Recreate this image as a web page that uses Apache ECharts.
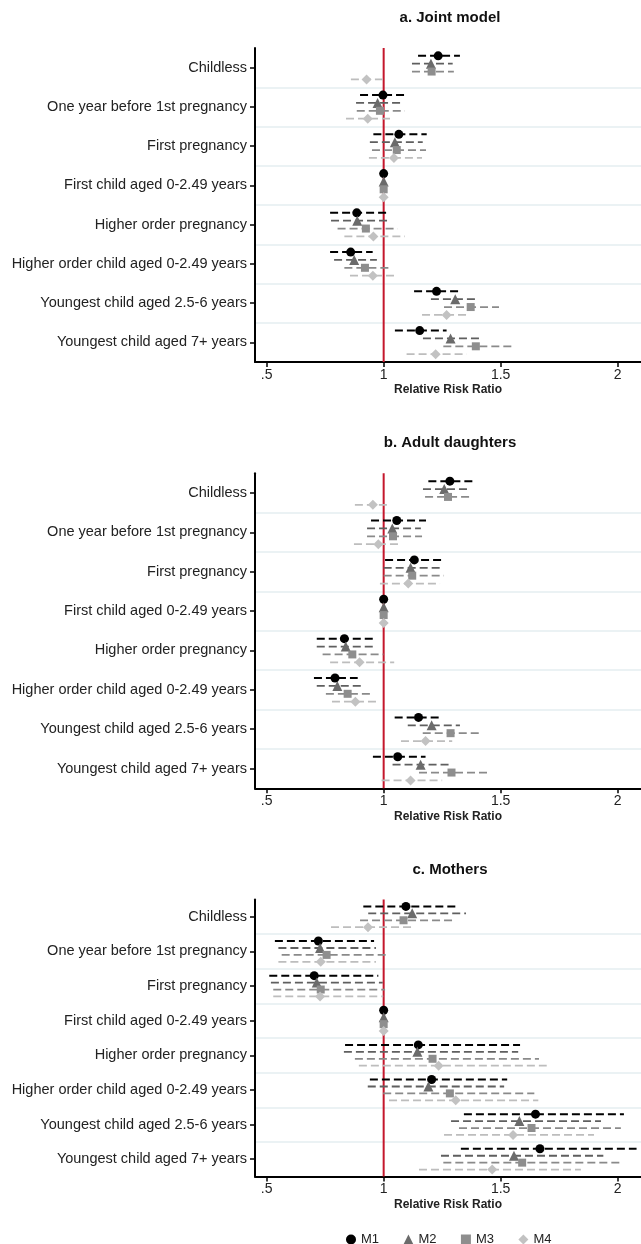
<!DOCTYPE html>
<html>
<head>
<meta charset="utf-8">
<script src="https://cdn.jsdelivr.net/npm/echarts@6/dist/echarts.min.js"></script>
<style>
html,body{margin:0;padding:0;background:#fff;}
#chart{width:641px;height:1244px;}
</style>
</head>
<body>
<div id="chart"></div>
<script>
// ---------------- DATA ----------------
const categories = [
  'Childless',
  'One year before 1st pregnancy',
  'First pregnancy',
  'First child aged 0-2.49 years',
  'Higher order pregnancy',
  'Higher order child aged 0-2.49 years',
  'Youngest child aged 2.5-6 years',
  'Youngest child aged 7+ years'
];
const panelTitles = ['a. Joint model', 'b. Adult daughters', 'c. Mothers'];
const modelNames = ['M1', 'M2', 'M3', 'M4'];
const xTickValues = [0.5, 1, 1.5, 2];
const xTickLabels = ['.5', '1', '1.5', '2'];
const xAxisTitle = 'Relative Risk Ratio';

// Panel a: Joint model
const a_M1 = [1.233, 0.997, 1.065, 1, 0.885, 0.859, 1.226, 1.154];
const a_M1_lo = [1.147, 0.899, 0.956, 1, 0.771, 0.771, 1.130, 1.048];
const a_M1_hi = [1.326, 1.098, 1.184, 1, 1.013, 0.953, 1.330, 1.269];
const a_M2 = [1.202, 0.974, 1.048, 1, 0.887, 0.874, 1.306, 1.286];
const a_M2_lo = [1.121, 0.882, 0.941, 1, 0.775, 0.788, 1.202, 1.168];
const a_M2_hi = [1.295, 1.084, 1.167, 1, 1.021, 0.971, 1.404, 1.419];
const a_M3 = [1.205, 0.984, 1.056, 1, 0.924, 0.920, 1.372, 1.394];
const a_M3_lo = [1.121, 0.885, 0.950, 1, 0.803, 0.832, 1.258, 1.255];
const a_M3_hi = [1.300, 1.091, 1.181, 1, 1.060, 1.027, 1.493, 1.547];
const a_M4 = [0.927, 0.932, 1.044, 1, 0.956, 0.954, 1.269, 1.222];
const a_M4_lo = [0.860, 0.839, 0.937, 1, 0.832, 0.856, 1.164, 1.098];
const a_M4_hi = [0.998, 1.034, 1.164, 1, 1.091, 1.061, 1.365, 1.355];

// Panel b: Adult daughters
const b_M1 = [1.283, 1.056, 1.131, 1, 0.832, 0.792, 1.149, 1.060];
const b_M1_lo = [1.191, 0.946, 1.006, 1, 0.714, 0.702, 1.047, 0.954];
const b_M1_hi = [1.386, 1.181, 1.262, 1, 0.970, 0.889, 1.250, 1.179];
const b_M2 = [1.259, 1.037, 1.115, 1, 0.838, 0.802, 1.205, 1.158];
const b_M2_lo = [1.168, 0.929, 1.000, 1, 0.714, 0.714, 1.103, 1.038];
const b_M2_hi = [1.362, 1.159, 1.252, 1, 0.970, 0.903, 1.326, 1.292];
const b_M3 = [1.275, 1.040, 1.122, 1, 0.866, 0.846, 1.286, 1.290];
const b_M3_lo = [1.177, 0.929, 1.000, 1, 0.739, 0.753, 1.167, 1.151];
const b_M3_hi = [1.379, 1.164, 1.258, 1, 0.999, 0.953, 1.416, 1.450];
const b_M4 = [0.954, 0.977, 1.105, 1, 0.897, 0.879, 1.179, 1.115];
const b_M4_lo = [0.877, 0.873, 0.984, 1, 0.771, 0.779, 1.074, 0.991];
const b_M4_hi = [1.027, 1.078, 1.241, 1, 1.045, 0.984, 1.293, 1.250];

// Panel c: Mothers
const c_M1 = [1.095, 0.721, 0.703, 1, 1.148, 1.205, 1.649, 1.668];
const c_M1_lo = [0.913, 0.535, 0.511, 1, 0.835, 0.941, 1.343, 1.330];
const c_M1_hi = [1.322, 0.959, 0.977, 1, 1.583, 1.528, 2.027, 2.081];
const c_M2 = [1.122, 0.728, 0.714, 1, 1.144, 1.191, 1.580, 1.557];
const c_M2_lo = [0.934, 0.550, 0.518, 1, 0.830, 0.932, 1.288, 1.245];
const c_M2_hi = [1.352, 0.967, 0.996, 1, 1.575, 1.515, 1.929, 1.939];
const c_M3 = [1.085, 0.756, 0.731, 1, 1.209, 1.283, 1.632, 1.592];
const c_M3_lo = [0.899, 0.564, 0.528, 1, 0.877, 0.998, 1.322, 1.255];
const c_M3_hi = [1.309, 1.013, 1.006, 1, 1.664, 1.644, 2.014, 2.021];
const c_M4 = [0.933, 0.731, 0.728, 1, 1.235, 1.308, 1.553, 1.464];
const c_M4_lo = [0.775, 0.550, 0.528, 1, 0.894, 1.023, 1.258, 1.151];
const c_M4_hi = [1.129, 0.967, 0.998, 1, 1.697, 1.661, 1.899, 1.843];

const referenceValue = [1];

// ---------------- STYLE / LAYOUT ----------------
const FONT = '"Liberation Sans", Arial, Helvetica, sans-serif';
const panels = [
  { est: [a_M1, a_M2, a_M3, a_M4], lo: [a_M1_lo, a_M2_lo, a_M3_lo, a_M4_lo], hi: [a_M1_hi, a_M2_hi, a_M3_hi, a_M4_hi], top: 48, height: 314 },
  { est: [b_M1, b_M2, b_M3, b_M4], lo: [b_M1_lo, b_M2_lo, b_M3_lo, b_M4_lo], hi: [b_M1_hi, b_M2_hi, b_M3_hi, b_M4_hi], top: 473.3, height: 315 },
  { est: [c_M1, c_M2, c_M3, c_M4], lo: [c_M1_lo, c_M2_lo, c_M3_lo, c_M4_lo], hi: [c_M1_hi, c_M2_hi, c_M3_hi, c_M4_hi], top: 899.5, height: 277 }
];
const GRID_LEFT = 255, GRID_WIDTH = 386;
const offsets = [-0.3, -0.1, 0.1, 0.3];
const markerColors = ['#000000', '#6b6b6b', '#8e8e8e', '#c2c2c2'];
const lineColors = ['#000000', '#5f5f5f', '#8a8a8a', '#bdbdbd'];
const lineWidths = [2, 1.8, 1.8, 1.8];
const symbols = ['circle', 'triangle', 'rect', 'diamond'];
const symbolSizes = [9, 10, 8, 10];

const grids = [], xAxes = [], yAxes = [], series = [], graphics = [];

panels.forEach((p, pi) => {
  grids.push({ left: GRID_LEFT, top: p.top, width: GRID_WIDTH, height: p.height });
  xAxes.push({
    type: 'value', gridIndex: pi, min: 0.45, max: 2.1,
    name: xAxisTitle, nameLocation: 'middle', nameGap: 22,
    nameTextStyle: { fontFamily: FONT, fontWeight: 'bold', fontSize: 12, color: '#222' },
    axisLine: { show: true, onZero: false, lineStyle: { color: '#000', width: 2 } },
    axisTick: { show: true, length: 5, customValues: xTickValues, lineStyle: { color: '#000', width: 1.5 } },
    axisLabel: {
      show: true, margin: 6, customValues: xTickValues,
      formatter: v => xTickLabels[xTickValues.indexOf(v)] ?? String(v),
      fontFamily: FONT, fontSize: 14, color: '#222'
    },
    splitLine: { show: false }
  });
  yAxes.push({
    type: 'category', gridIndex: pi, data: categories, inverse: true, boundaryGap: true,
    axisLine: { show: true, lineStyle: { color: '#000', width: 2 } },
    axisTick: { show: true, alignWithLabel: true, length: 5, lineStyle: { color: '#000', width: 1.5 } },
    axisLabel: { show: true, margin: 8, fontFamily: FONT, fontSize: 14.5, color: '#222', interval: 0 },
    splitLine: { show: true, showMinLine: false, showMaxLine: false, lineStyle: { color: '#e4eef1', width: 1.5 } }
  });
  yAxes.push({
    type: 'value', gridIndex: pi, min: -0.5, max: 7.5, inverse: true, show: false,
    splitLine: { show: false }
  });
  const vIdx = 2 * pi + 1;

  // reference line at RRR = 1
  series.push({
    type: 'custom', name: 'ref', xAxisIndex: pi, yAxisIndex: vIdx, z: 1,
    silent: true, animation: false, clip: false,
    encode: { x: 0 },
    data: referenceValue.map(v => [v]),
    renderItem: (params, api) => {
      const cs = params.coordSys;
      const x = api.coord([api.value(0), 0])[0];
      return {
        type: 'line',
        shape: { x1: x, y1: cs.y, x2: x, y2: cs.y + cs.height },
        style: { stroke: '#c4172c', lineWidth: 2 }
      };
    }
  });

  for (let m = 0; m < 4; m++) {
    const ciData = categories.map((c, i) => [p.lo[m][i], p.hi[m][i], i + offsets[m]]);
    const ptData = categories.map((c, i) => [p.est[m][i], i + offsets[m]]);
    const col = lineColors[m], lw = lineWidths[m];
    series.push({
      type: 'custom', name: modelNames[m] + ' CI', xAxisIndex: pi, yAxisIndex: vIdx, z: 2,
      silent: true, animation: false, clip: false,
      encode: { x: [0, 1], y: 2 },
      data: ciData,
      renderItem: (params, api) => {
        const p1 = api.coord([api.value(0), api.value(2)]);
        const p2 = api.coord([api.value(1), api.value(2)]);
        return {
          type: 'line',
          shape: { x1: p1[0], y1: p1[1], x2: p2[0], y2: p2[1] },
          style: { stroke: col, lineWidth: lw, lineDash: [8, 4], fill: null }
        };
      }
    });
    series.push({
      type: 'scatter', name: modelNames[m], xAxisIndex: pi, yAxisIndex: vIdx, z: 3 + m,
      symbol: symbols[m], symbolSize: symbolSizes[m], animation: false,
      itemStyle: { color: markerColors[m], opacity: 1 },
      data: ptData
    });
  }

  graphics.push({
    type: 'text', x: GRID_LEFT + GRID_WIDTH / 2 + 2, y: p.top - 30,
    style: {
      text: panelTitles[pi], fill: '#111', align: 'center', verticalAlign: 'middle',
      font: 'bold 15px ' + FONT
    }
  });
});

const chart = echarts.init(document.getElementById('chart'), null, { renderer: 'canvas' });
chart.setOption({
  backgroundColor: '#fff',
  animation: false,
  grid: grids,
  xAxis: xAxes,
  yAxis: yAxes,
  graphic: graphics,
  legend: {
    left: 341, top: 1228, orient: 'horizontal',
    itemWidth: 10, itemHeight: 10, itemGap: 24.4,
    data: modelNames.map((n, i) => ({ name: n, icon: symbols[i] })),
    textStyle: { fontFamily: FONT, fontSize: 13, color: '#222' }
  },
  series: series
});
</script>
</body>
</html>
